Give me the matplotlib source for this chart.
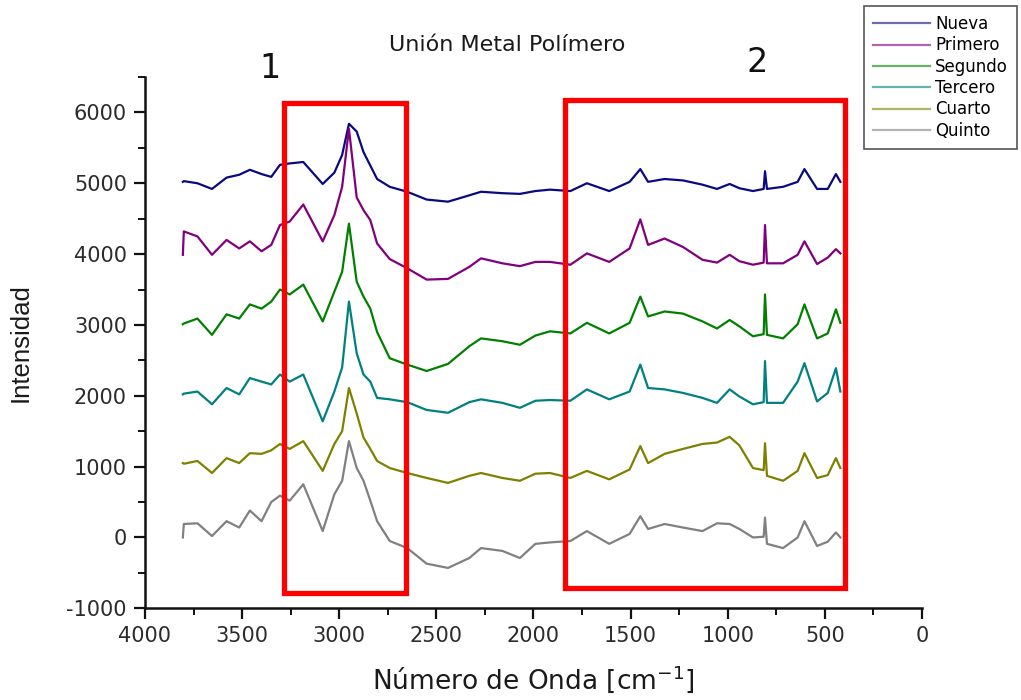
import numpy as np
import matplotlib
matplotlib.use("Agg")
import matplotlib.pyplot as plt
from matplotlib.patches import Rectangle
from matplotlib.ticker import MultipleLocator

plt.rcParams["axes.unicode_minus"] = False

# wavenumber grid (cm-1) shared by all spectra
wavenumber = [3805, 3800, 3730, 3655, 3580, 3515, 3460, 3400, 3350, 3305, 3255, 3185,
              3085, 3025, 2985, 2950, 2910, 2875, 2840, 2805, 2740, 2650, 2550, 2440,
              2330, 2270, 2160, 2070, 1990, 1915, 1810, 1725, 1610, 1505, 1450, 1410,
              1325, 1230, 1130, 1055, 990, 940, 870, 815, 808, 798, 715, 640, 605,
              540, 485, 443, 420]

nueva = [5020, 5030, 5000, 4920, 5080, 5120, 5190, 5130, 5090, 5260, 5280, 5300,
         4990, 5150, 5400, 5840, 5730, 5440, 5250, 5060, 4950, 4880, 4770, 4740,
         4830, 4880, 4860, 4850, 4890, 4910, 4890, 5000, 4890, 5020, 5200, 5020,
         5060, 5040, 4980, 4920, 4990, 4930, 4890, 4920, 5170, 4920, 4950, 5020, 5200,
         4920, 4920, 5130, 5020]

primero = [3990, 4320, 4250, 3990, 4200, 4080, 4180, 4040, 4130, 4410, 4460, 4700,
           4180, 4550, 4950, 5770, 4800, 4620, 4480, 4150, 3930, 3800, 3640, 3650,
           3820, 3940, 3870, 3830, 3890, 3890, 3850, 4010, 3890, 4080, 4490, 4130,
           4220, 4100, 3920, 3880, 3990, 3900, 3850, 3880, 4410, 3870, 3870, 3990, 4180,
           3860, 3950, 4070, 4010]

segundo = [3010, 3020, 3090, 2860, 3150, 3090, 3290, 3230, 3330, 3500, 3430, 3570,
           3050, 3470, 3750, 4430, 3610, 3400, 3230, 2900, 2530, 2440, 2350, 2450,
           2700, 2810, 2770, 2720, 2850, 2910, 2880, 3030, 2880, 3030, 3400, 3120,
           3190, 3160, 3050, 2950, 3070, 2980, 2840, 2870, 3430, 2860, 2810, 3010, 3290,
           2810, 2880, 3220, 3030]

tercero = [2020, 2030, 2060, 1880, 2110, 2020, 2250, 2200, 2160, 2300, 2200, 2300,
           1640, 2060, 2400, 3330, 2600, 2300, 2200, 1970, 1950, 1910, 1800, 1760,
           1910, 1950, 1900, 1830, 1930, 1940, 1930, 2090, 1950, 2060, 2440, 2110,
           2090, 2040, 1970, 1900, 2090, 1990, 1880, 1910, 2490, 1900, 1900, 2200, 2460,
           1920, 2040, 2390, 2060]

cuarto = [1050, 1040, 1080, 910, 1120, 1050, 1190, 1180, 1230, 1320, 1250, 1360,
          940, 1320, 1500, 2110, 1750, 1410, 1250, 1080, 980, 910, 840, 770,
          870, 910, 840, 800, 900, 910, 840, 940, 820, 960, 1290, 1050,
          1180, 1250, 1320, 1340, 1420, 1300, 980, 950, 1330, 870, 800, 940, 1190,
          840, 880, 1120, 980]

quinto = [0, 190, 200, 20, 230, 140, 380, 230, 500, 590, 520, 750,
          90, 610, 800, 1360, 980, 800, 520, 230, -50, -150, -370, -430,
          -290, -150, -190, -290, -90, -70, -50, 90, -90, 50, 300, 120,
          190, 140, 90, 200, 190, 120, 0, 10, 280, -90, -150, 0, 230,
          -120, -60, 70, 0]

series_names = ["Nueva", "Primero", "Segundo", "Tercero", "Cuarto", "Quinto"]
series_values = [nueva, primero, segundo, tercero, cuarto, quinto]
series_colors = ["#0a0a80", "#800080", "#008000", "#008080", "#808000", "#808080"]

# highlighted regions (x range, y range) and their labels
regions = [((3284, 2656), (-790, 6140), "1"), ((1838, 396), (-720, 6180), "2")]

fig = plt.figure(figsize=(10.21, 7.0), dpi=100)
ax = fig.add_axes([0.142, 0.131, 0.761, 0.759])

for name, vals, col in zip(series_names, series_values, series_colors):
    ax.plot(wavenumber, vals, color=col, lw=1.6, label=name)

for (x0, x1), (y0, y1), lab in regions:
    ax.add_patch(Rectangle((x0, y0), x1 - x0, y1 - y0, fill=False, edgecolor="#ff0000",
                           lw=3.8, clip_on=False, zorder=5))

ax.set_xlim(4000, 0)
ax.set_ylim(-1000, 6500)
ax.xaxis.set_major_locator(MultipleLocator(500))
ax.xaxis.set_minor_locator(MultipleLocator(250))
ax.yaxis.set_major_locator(MultipleLocator(1000))
ax.yaxis.set_minor_locator(MultipleLocator(500))

for side in ["top", "right"]:
    ax.spines[side].set_visible(False)
for side in ["left", "bottom"]:
    ax.spines[side].set_linewidth(1.8)
    ax.spines[side].set_color("#111111")

ax.tick_params(which="major", direction="out", length=8, width=1.6, color="#111111",
               labelsize=15, labelcolor="#2b2b2b", pad=5)
ax.tick_params(which="minor", direction="out", length=5, width=1.4, color="#111111")
for lbl in ax.get_xticklabels() + ax.get_yticklabels():
    lbl.set_fontfamily("DejaVu Sans")

ax.set_xlabel("Número de Onda [cm$^{-1}$]", fontsize=19, family="DejaVu Sans",
              color="#1a1a1a", labelpad=12)
ax.set_ylabel("Intensidad", fontsize=18.5, family="Liberation Sans", color="#1a1a1a",
              labelpad=24)

fig.text(0.497, 0.936, "Unión Metal Polímero", fontsize=16, family="DejaVu Sans",
         ha="center", va="center", color="#1a1a1a")
fig.text(270 / 1021, 1 - 68 / 700, regions[0][2], fontsize=24, family="DejaVu Sans",
         ha="center", va="center", color="#111111")
fig.text(757 / 1021, 1 - 62 / 700, regions[1][2], fontsize=24, family="DejaVu Sans",
         ha="center", va="center", color="#111111")

leg = fig.legend(loc="upper right", bbox_to_anchor=(1017 / 1021, 1 - 6 / 700),
                 frameon=True, fancybox=False, edgecolor="#555555", borderaxespad=0,
                 framealpha=1, handlelength=3.4, handletextpad=0.3, labelspacing=0.2,
                 borderpad=0.55, prop={"family": "DejaVu Sans", "size": 12})
leg.get_frame().set_linewidth(1.2)
for line in leg.get_lines():
    line.set_linewidth(1.6)
    line.set_alpha(0.6)

fig.savefig("out.png", dpi=100)
